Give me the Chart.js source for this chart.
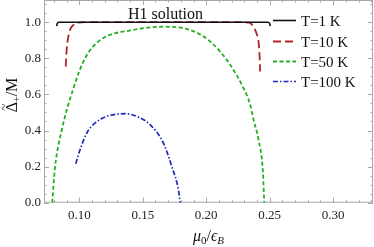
<!DOCTYPE html>
<html>
<head>
<meta charset="utf-8">
<script src="https://cdn.jsdelivr.net/npm/chart.js@4.4.1/dist/chart.umd.min.js"></script>
<style>
  html, body { margin: 0; padding: 0; background: #fff; }
</style>
</head>
<body>
<canvas id="chart" width="374" height="247"></canvas>
<script>
const seriesLabels = ['T=1 K', 'T=10 K', 'T=50 K', 'T=100 K'];

// T=1 K (the flat "H1 solution" bracket)
const t1X = [0.0822, 0.0826, 0.0840, 0.2486, 0.2500, 0.2504];
const t1Y = [0.978, 0.993, 1.000, 1.000, 0.993, 0.978];

// T=10 K
const t10X = [0.0893, 0.0898, 0.0905, 0.0927, 0.0955, 0.0990, 0.1050, 0.2280, 0.2340, 0.2372, 0.2395, 0.2412, 0.2420, 0.2425];
const t10Y = [0.754, 0.820, 0.880, 0.957, 0.985, 0.997, 1.000, 1.000, 0.997, 0.975, 0.940, 0.893, 0.820, 0.727];

// T=50 K
const t50X = [0.0787, 0.0808, 0.0861, 0.0952, 0.1045, 0.1163, 0.1426, 0.1662, 0.1873, 0.2031, 0.2189, 0.2294, 0.2343, 0.2373, 0.2412, 0.2447, 0.2457];
const t50Y = [0.000, 0.190, 0.400, 0.630, 0.800, 0.900, 0.957, 0.975, 0.957, 0.893, 0.764, 0.634, 0.551, 0.459, 0.350, 0.166, 0.000];

// T=100 K
const t100X = [0.0972, 0.1006, 0.1059, 0.1124, 0.1216, 0.1308, 0.1361, 0.1453, 0.1558, 0.1663, 0.1729, 0.1781, 0.1795];
const t100Y = [0.216, 0.293, 0.386, 0.441, 0.478, 0.491, 0.493, 0.478, 0.432, 0.330, 0.200, 0.072, 0.000];

const xTicks = [0.10, 0.15, 0.20, 0.25, 0.30];
const yTicks = [0.0, 0.2, 0.4, 0.6, 0.8, 1.0];

const serif = '"Liberation Serif", "DejaVu Serif", serif';
const frameColor = '#a8a8a8';

function pts(xs, ys) {
  return xs.map((x, i) => ({ x, y: ys[i] }));
}

const frameTicks = {
  id: 'frameTicks',
  beforeDatasetsDraw(chart) {
    const { ctx, chartArea: a, scales: { x, y } } = chart;
    ctx.save();
    ctx.strokeStyle = frameColor;
    ctx.lineWidth = 1;
    ctx.strokeRect(a.left + 0.5, a.top + 0.5, a.right - a.left - 1, a.bottom - a.top - 1);
    ctx.beginPath();
    for (let i = 8; i <= 33; i++) {
      const v = i / 100;
      const px = Math.round(x.getPixelForValue(v)) + 0.5;
      const len = i % 5 === 0 ? 5 : 2.5;
      ctx.moveTo(px, a.bottom); ctx.lineTo(px, a.bottom - len);
      ctx.moveTo(px, a.top); ctx.lineTo(px, a.top + len);
    }
    for (let i = 0; i <= 22; i++) {
      const v = i * 0.05;
      const py = Math.round(y.getPixelForValue(v)) + 0.5;
      const len = i % 4 === 0 ? 5 : 2.5;
      ctx.moveTo(a.left, py); ctx.lineTo(a.left + len, py);
      ctx.moveTo(a.right, py); ctx.lineTo(a.right - len, py);
    }
    ctx.stroke();
    ctx.restore();
  },
  afterDatasetsDraw(chart) {
    const { ctx, chartArea: a } = chart;
    ctx.save();
    ctx.fillStyle = '#111';
    ctx.textBaseline = 'alphabetic';

    // annotation
    ctx.font = '16px ' + serif;
    ctx.textAlign = 'center';
    ctx.fillText('H1 solution', 165.5, 18.5);

    // legend
    ctx.textAlign = 'left';
    ctx.font = '15px ' + serif;
    const rows = [20.5, 41.5, 61.5, 81.5];
    chart.data.datasets.forEach((ds, i) => {
      const yy = rows[i];
      ctx.save();
      ctx.strokeStyle = ds.borderColor;
      ctx.lineWidth = ds.borderWidth;
      ctx.setLineDash(ds.borderDash || []);
      ctx.beginPath();
      ctx.moveTo(273, yy);
      ctx.lineTo(296, yy);
      ctx.stroke();
      ctx.restore();
      ctx.fillText(ds.label, 301, yy + 5.5);
    });

    // x axis title: mu_0 / epsilon_B
    const cx = (a.left + a.right) / 2;
    const by = 241;
    const parts = [
      { t: '\u03bc', f: 'italic 16px ' + serif, dy: 0 },
      { t: '0', f: '11px ' + serif, dy: 3 },
      { t: '/', f: '16px ' + serif, dy: 0 },
      { t: '\u03f5', f: 'italic 16px ' + serif, dy: 0 },
      { t: 'B', f: 'italic 11px ' + serif, dy: 3 }
    ];
    let w = 0;
    parts.forEach(p => { ctx.font = p.f; p.w = ctx.measureText(p.t).width; w += p.w; });
    let xx = cx - w / 2;
    parts.forEach(p => { ctx.font = p.f; ctx.fillText(p.t, xx, by + p.dy); xx += p.w; });

    // y axis title: tilde Delta_+ / M
    ctx.translate(17, 95);
    ctx.rotate(-Math.PI / 2);
    const yparts = [
      { t: '\u0394', f: '16px ' + serif, dy: 0 },
      { t: '+', f: '10px ' + serif, dy: 3 },
      { t: '/M', f: '16px ' + serif, dy: 0 }
    ];
    w = 0;
    yparts.forEach(p => { ctx.font = p.f; p.w = ctx.measureText(p.t).width; w += p.w; });
    xx = -w / 2;
    yparts.forEach((p, i) => {
      ctx.font = p.f;
      ctx.fillText(p.t, xx, p.dy);
      if (i === 0) {
        ctx.font = '13px ' + serif;
        ctx.textAlign = 'center';
        ctx.fillText('~', xx + p.w / 2, -9);
        ctx.textAlign = 'left';
      }
      xx += p.w;
    });
    ctx.restore();
  }
};

const common = {
  showLine: true,
  fill: false,
  pointRadius: 0,
  pointHoverRadius: 0,
  cubicInterpolationMode: 'monotone'
};

new Chart(document.getElementById('chart'), {
  type: 'scatter',
  data: {
    datasets: [
      { ...common, label: seriesLabels[0], data: pts(t1X, t1Y), borderColor: '#111111', borderWidth: 1.6 },
      { ...common, label: seriesLabels[1], data: pts(t10X, t10Y), borderColor: '#b0232a', borderWidth: 1.8, borderDash: [8, 4] },
      { ...common, label: seriesLabels[2], data: pts(t50X, t50Y), borderColor: '#22b022', borderWidth: 1.8, borderDash: [4, 2.5] },
      { ...common, label: seriesLabels[3], data: pts(t100X, t100Y), borderColor: '#1f2ab8', borderWidth: 1.7, borderDash: [5, 2, 1.5, 2] }
    ]
  },
  options: {
    responsive: false,
    animation: false,
    events: [],
    layout: { padding: { left: 0, right: 1, top: 0, bottom: 0 } },
    plugins: { legend: { display: false }, tooltip: { enabled: false } },
    scales: {
      x: {
        type: 'linear',
        min: 0.0722,
        max: 0.3314,
        grid: { display: false, drawTicks: false },
        border: { display: false },
        afterBuildTicks: s => { s.ticks = xTicks.map(v => ({ value: v })); },
        afterFit: s => { s.height = 44.3; s.paddingLeft = 0; s.paddingRight = 0; },
        ticks: {
          padding: 5,
          color: '#222',
          font: { family: serif, size: 13 },
          callback: v => v.toFixed(2)
        }
      },
      y: {
        min: 0,
        max: 1.123,
        grid: { display: false, drawTicks: false },
        border: { display: false },
        afterBuildTicks: s => { s.ticks = yTicks.map(v => ({ value: v })); },
        afterFit: s => { s.width = 44; s.paddingTop = 0; s.paddingBottom = 0; },
        ticks: {
          padding: 3,
          color: '#222',
          font: { family: serif, size: 13 },
          callback: v => v.toFixed(1)
        }
      }
    }
  },
  plugins: [frameTicks]
});
</script>
</body>
</html>
